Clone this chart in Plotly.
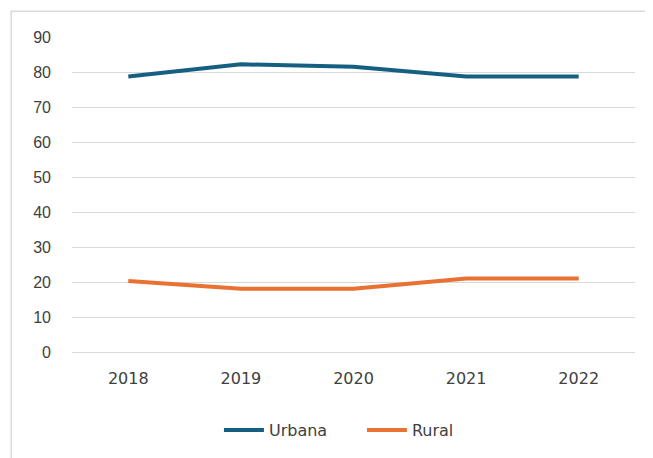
import plotly.graph_objects as go

years = ["2018", "2019", "2020", "2021", "2022"]
urbana = [78.7, 82.2, 81.5, 78.7, 78.7]
rural = [20.3, 18.1, 18.1, 21.0, 21.0]
yticks = [0, 10, 20, 30, 40, 50, 60, 70, 80, 90]

blue = "#156082"
orange = "#E97132"
grid = "#d9d9d9"
txt = "#404040"

fig = go.Figure()
fig.add_trace(go.Scatter(x=years, y=urbana, mode="lines", name="Urbana",
                         line=dict(color=blue, width=4)))
fig.add_trace(go.Scatter(x=years, y=rural, mode="lines", name="Rural",
                         line=dict(color=orange, width=4)))

# light grey chart-area border, running off the right and bottom edges
fig.add_shape(type="rect", xref="paper", yref="paper",
              x0=-0.108, x1=1.1, y0=-0.4, y1=1.082,
              line=dict(color=grid, width=1.5), layer="below")

# page body has an 8px margin, so the figure is shrunk/shifted to compensate
fig.update_layout(
    width=645, height=450,
    margin=dict(l=64, r=18, t=29, b=105),
    plot_bgcolor="white", paper_bgcolor="white",
    font=dict(family="Liberation Sans", size=16, color=txt),
    showlegend=True,
    legend=dict(orientation="h", x=0.515, xanchor="center", y=-0.19, yanchor="top",
                font=dict(family="DejaVu Sans", size=16, color=txt),
                itemwidth=40, entrywidth=88),
)
fig.update_xaxes(range=[-0.5, 4.5], showgrid=False, showline=True, linecolor=grid, linewidth=1,
                 ticks="", tickfont=dict(family="DejaVu Sans", size=16, color=txt),
                 ticklabelstandoff=12)
fig.update_yaxes(range=[0, 90], tickvals=yticks, showgrid=True, gridcolor=grid, gridwidth=1,
                 zeroline=False, showline=False, ticks="", ticklabelstandoff=20,
                 tickfont=dict(family="Liberation Sans", size=16, color=txt))

fig.write_html("out.html")
